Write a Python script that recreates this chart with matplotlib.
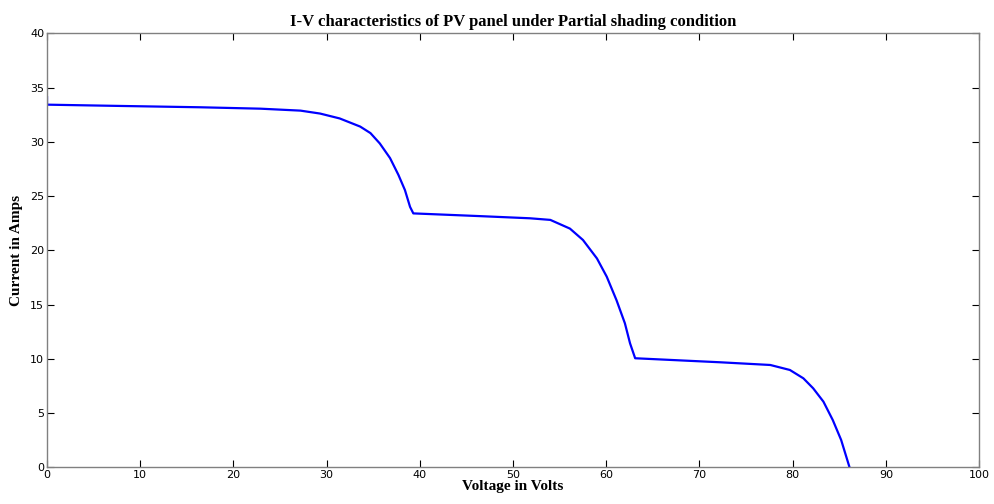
import matplotlib.pyplot as plt
import numpy as np

# points (volts, amps)
voltage = [0.0, 0.0, 8.0, 16.4, 22.9, 27.2, 29.3, 31.4, 33.6, 34.7, 35.7, 36.8,
           37.7, 38.4, 38.95, 39.3, 46.4, 51.8, 54.0, 56.1, 57.5, 59.0, 60.05,
           61.1, 62.0, 62.55, 63.1, 72.2, 77.6, 79.7, 81.15, 82.2, 83.3, 84.3,
           85.2, 86.1]
current = [34.1, 33.42, 33.3, 33.18, 33.05, 32.87, 32.6, 32.15, 31.4, 30.8, 29.85, 28.5,
           26.95, 25.55, 24.0, 23.4, 23.15, 22.95, 22.8, 22.0, 20.95, 19.25, 17.57,
           15.4, 13.27, 11.43, 10.05, 9.68, 9.43, 8.97, 8.2, 7.28, 6.05, 4.36,
           2.52, 0.0]

xticks = np.arange(0, 101, 10)
yticks = np.arange(0, 41, 5)

fig = plt.figure(figsize=(9.94, 5.04), dpi=100)
ax = fig.add_axes([0.0473, 0.0728, 0.9377, 0.8612])

ax.plot(voltage, current, color='#0000ff', linewidth=1.6)

ax.set_xlim(0, 100)
ax.set_ylim(0, 40)
ax.set_xticks(xticks)
ax.set_yticks(yticks)
ax.tick_params(direction='in', length=5, width=0.8, top=True, right=True,
               labelsize=8, pad=2, colors='black')
for s in ax.spines.values():
    s.set_color('#808080')
    s.set_linewidth(1.0)

serif = ['Liberation Serif', 'DejaVu Serif']
ax.set_title("I-V characteristics of PV panel under Partial shading condition",
             fontfamily=serif, fontweight='bold', fontsize=12, pad=5)
ax.set_xlabel("Voltage in Volts", fontfamily=serif, fontweight='bold', fontsize=11, labelpad=0)
ax.set_ylabel("Current in Amps", fontfamily=serif, fontweight='bold', fontsize=11, labelpad=5)

fig.savefig('out.png', dpi=100)
